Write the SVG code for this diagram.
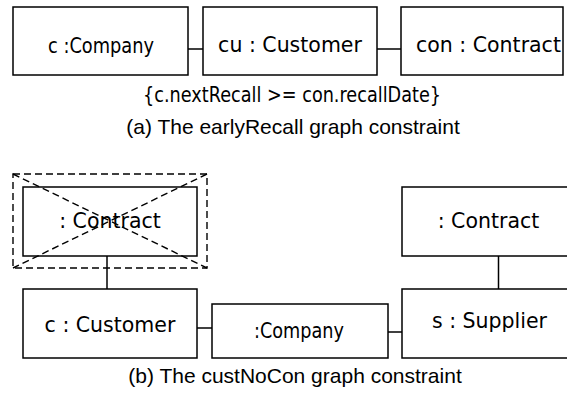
<svg xmlns="http://www.w3.org/2000/svg" width="567" height="401" viewBox="0 0 567 401">
  <style>
    .box { fill: #ffffff; stroke: #000000; stroke-width: 1.5; }
    .link { stroke: #000000; stroke-width: 1.5; fill: none; }
    .neg { stroke: #000000; stroke-width: 1.4; fill: none; stroke-dasharray: 7 4; }
    .lbl { font-family: "DejaVu Sans", sans-serif; font-size: 20.5px; fill: #000000; }
    .cap { font-family: "Liberation Sans", Arial, sans-serif; font-size: 21px; fill: #000000; text-anchor: middle; }
  </style>

  <!-- (a) earlyRecall -->
  <g id="connectors-a">
    <line class="link" x1="188" y1="49" x2="203" y2="49"/>
    <line class="link" x1="377" y1="49" x2="401" y2="49"/>
  </g>
  <g id="a-company">
    <rect class="box" x="13" y="7" width="175" height="68"/>
    <text class="lbl" x="48" y="53" textLength="106" lengthAdjust="spacingAndGlyphs">c :Company</text>
  </g>
  <g id="a-customer">
    <rect class="box" x="203" y="7" width="174" height="68"/>
    <text class="lbl" x="290" y="52" text-anchor="middle">cu : Customer</text>
  </g>
  <g id="a-contract">
    <rect class="box" x="401" y="7" width="162" height="68"/>
    <text class="lbl" x="416" y="52">con : Contract</text>
  </g>
  <text class="lbl" x="143" y="102" textLength="298" lengthAdjust="spacingAndGlyphs">{c.nextRecall &gt;= con.recallDate}</text>
  <text class="cap" x="293" y="134">(a) The earlyRecall graph constraint</text>

  <!-- (b) custNoCon -->
  <g id="connectors-b">
    <line class="link" x1="107" y1="256" x2="107" y2="289"/>
    <line class="link" x1="197" y1="328" x2="212" y2="328"/>
    <line class="link" x1="388" y1="332" x2="402" y2="332"/>
    <line class="link" x1="498.5" y1="256" x2="498.5" y2="289"/>
  </g>
  <g id="b-contract-neg">
    <rect class="box" x="23" y="187" width="174" height="69"/>
    <text class="lbl" x="110" y="228" text-anchor="middle">: Contract</text>
    <rect class="neg" x="13" y="174" width="194" height="94"/>
    <line class="neg" x1="13" y1="174" x2="207" y2="268"/>
    <line class="neg" x1="207" y1="174" x2="13" y2="268"/>
  </g>
  <g id="b-customer">
    <rect class="box" x="23" y="289" width="174" height="69"/>
    <text class="lbl" x="110" y="332" text-anchor="middle">c : Customer</text>
  </g>
  <g id="b-company">
    <rect class="box" x="212" y="304" width="176" height="54"/>
    <text class="lbl" x="254" y="338" textLength="90" lengthAdjust="spacingAndGlyphs">:Company</text>
  </g>
  <g id="b-contract">
    <rect class="box" x="402" y="187" width="170" height="69"/>
    <text class="lbl" x="488.5" y="228" text-anchor="middle">: Contract</text>
  </g>
  <g id="b-supplier">
    <rect class="box" x="402" y="289" width="170" height="69"/>
    <text class="lbl" x="489.5" y="328" text-anchor="middle">s : Supplier</text>
  </g>
  <text class="cap" x="295" y="383">(b) The custNoCon graph constraint</text>
</svg>
